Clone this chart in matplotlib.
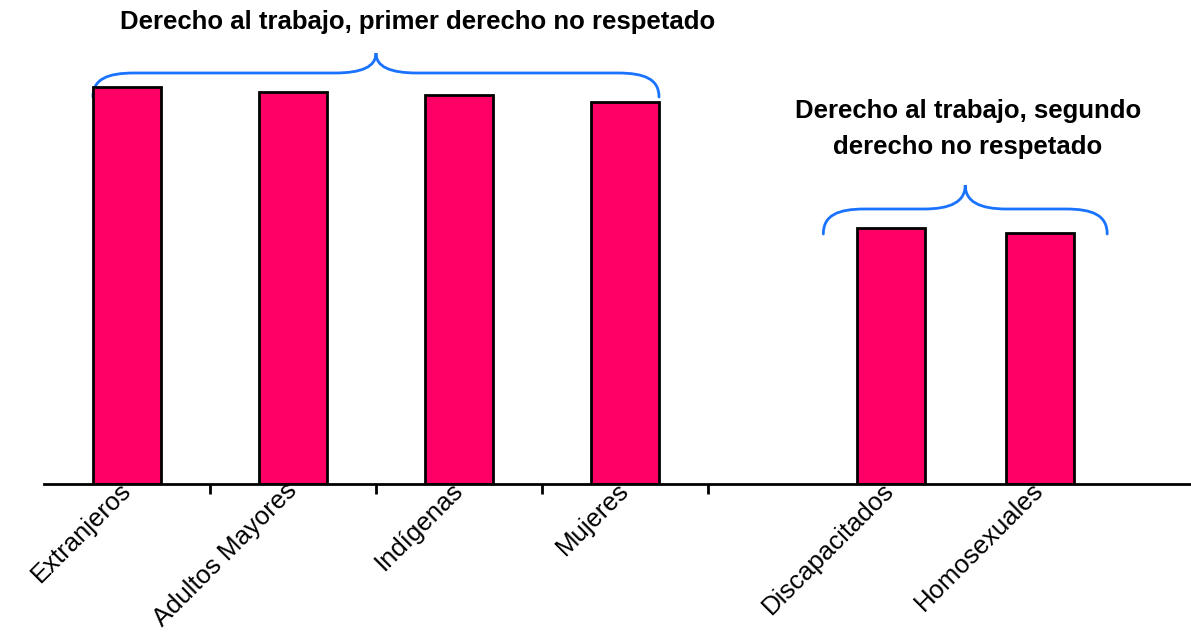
import numpy as np
import matplotlib
matplotlib.use("Agg")
import matplotlib.pyplot as plt
from matplotlib.path import Path
from matplotlib.patches import PathPatch

plt.rcParams['font.family'] = ['Liberation Sans', 'DejaVu Sans']

#%% Datos
categorias = ['Extranjeros', 'Adultos Mayores', 'Indígenas', 'Mujeres',
              'Discapacitados', 'Homosexuales']
posiciones = [0, 1, 2, 3, 4.6, 5.5]
valores = [99.3, 98.0, 97.3, 95.5, 64.0, 62.8]

titulo_1 = 'Derecho al trabajo, primer derecho no respetado'
titulo_2 = 'Derecho al trabajo, segundo\nderecho no respetado'

color_barra = '#FF0066'
color_llave = '#1A73FF'
ancho = 0.41

#%% Llave
def llave(ax, x0, x1, y_fin, y_linea, y_punta, r):
    xm = (x0 + x1) / 2
    verts = [(x0, y_fin),
             (x0, y_fin + 0.75*(y_linea - y_fin)), (x0 + 0.35*r, y_linea), (x0 + r, y_linea),
             (xm - r, y_linea),
             (xm - 0.35*r, y_linea), (xm, y_linea + 0.3*(y_punta - y_linea)), (xm, y_punta),
             (xm, y_linea + 0.3*(y_punta - y_linea)), (xm + 0.35*r, y_linea), (xm + r, y_linea),
             (x1 - r, y_linea),
             (x1 - 0.35*r, y_linea), (x1, y_fin + 0.75*(y_linea - y_fin)), (x1, y_fin)]
    codes = [Path.MOVETO,
             Path.CURVE4, Path.CURVE4, Path.CURVE4,
             Path.LINETO,
             Path.CURVE4, Path.CURVE4, Path.CURVE4,
             Path.CURVE4, Path.CURVE4, Path.CURVE4,
             Path.LINETO,
             Path.CURVE4, Path.CURVE4, Path.CURVE4]
    ax.add_patch(PathPatch(Path(verts, codes), facecolor='none',
                           edgecolor=color_llave, lw=2, clip_on=False,
                           capstyle='round'))

#%% Figura
fig = plt.figure(figsize=(11.91, 6.36), dpi=100)
ax = fig.add_axes([44/1191, 152/636, 1 - 44/1191, 484/636])

ax.bar(posiciones, valores, width=ancho, color=color_barra,
       edgecolor='black', linewidth=2, zorder=3)

ax.set_xlim(-0.5, 6.41)
ax.set_ylim(0, 121)

for s in ['top', 'right', 'left']:
    ax.spines[s].set_visible(False)
ax.spines['bottom'].set_linewidth(2)
ax.spines['bottom'].set_zorder(4)
ax.set_yticks([])

ax.set_xticks(posiciones)
ax.set_xticklabels(categorias, rotation=45, ha='right', va='center',
                   rotation_mode='anchor', fontsize=18.5)
ax.tick_params(axis='x', which='major', length=0, pad=2)
ax.set_xticks([0.5, 1.5, 2.5, 3.5], minor=True)
ax.tick_params(axis='x', which='minor', length=7, width=2, direction='out')

# llaves sobre los grupos
llave(ax, posiciones[0] - ancho/2, posiciones[3] + ancho/2, 96.75, 102.75, 107.75, 0.25)
llave(ax, posiciones[4] - ancho/2 - 0.2, posiciones[5] + ancho/2 + 0.2, 62.5, 68.75, 74.75, 0.25)

fig.text(418/1191, 1 - 22/636, titulo_1, ha='center', va='center',
         fontsize=18.5, fontweight='bold')
fig.text(968/1191, 1 - 129/636, titulo_2, ha='center', va='center',
         fontsize=18.5, fontweight='bold', linespacing=1.6)

fig.savefig('out.png', dpi=100)
